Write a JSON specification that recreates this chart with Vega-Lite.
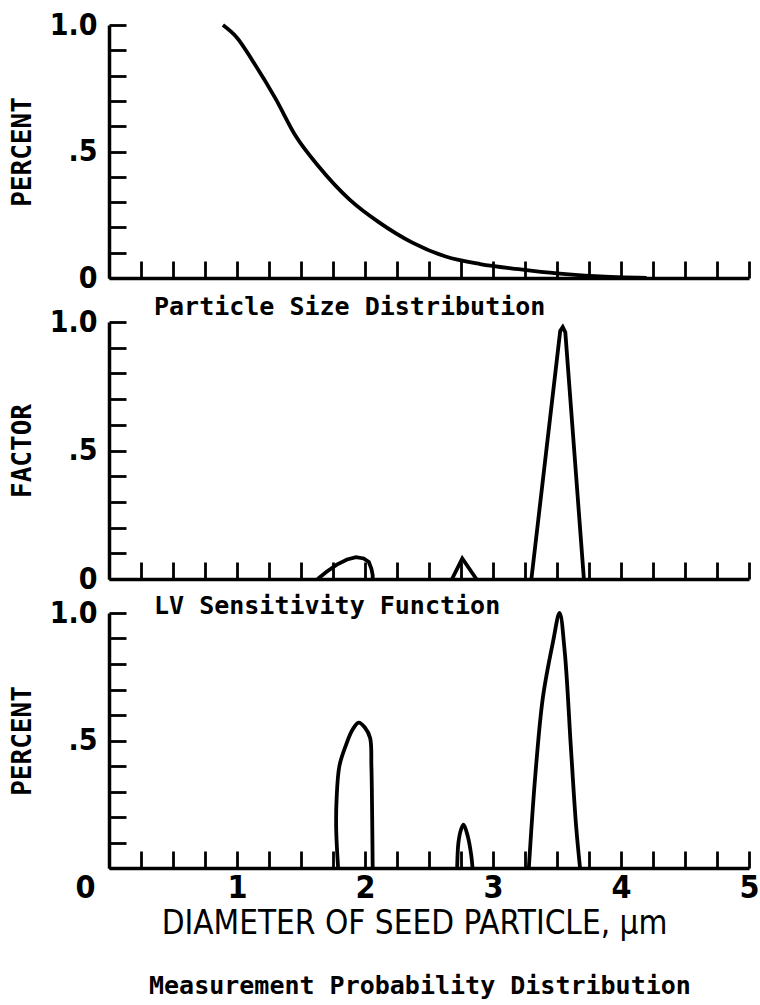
{
  "$schema": "https://vega.github.io/schema/vega-lite/v6.json",
  "background": "white",
  "padding": {"top": 10, "left": 9, "right": 4, "bottom": 4},
  "config": {
    "view": {"stroke": null},
    "axis": {
      "grid": false,
      "domainColor": "black",
      "domainWidth": 3.5,
      "tickColor": "black",
      "tickWidth": 2.8,
      "tickSize": -17,
      "labelColor": "black",
      "titleColor": "black",
      "labelFont": "DejaVu Sans Condensed",
      "labelFontWeight": "bold",
      "titleFont": "DejaVu Sans Mono",
      "titleFontWeight": "bold",
      "labelFlush": false,
      "labelOverlap": false
    },
    "title": {"color": "black", "font": "DejaVu Sans Mono", "fontWeight": "bold", "fontSize": 25}
  },
  "datasets": {
    "curves": [
      {"panel": "A", "seg": "a", "i": 1, "x": 0.89, "y": 1.0},
      {"panel": "A", "seg": "a", "i": 2, "x": 1.0, "y": 0.95},
      {"panel": "A", "seg": "a", "i": 3, "x": 1.12, "y": 0.86},
      {"panel": "A", "seg": "a", "i": 4, "x": 1.3, "y": 0.71},
      {"panel": "A", "seg": "a", "i": 5, "x": 1.46, "y": 0.56},
      {"panel": "A", "seg": "a", "i": 6, "x": 1.64, "y": 0.44},
      {"panel": "A", "seg": "a", "i": 7, "x": 1.88, "y": 0.31},
      {"panel": "A", "seg": "a", "i": 8, "x": 2.11, "y": 0.22},
      {"panel": "A", "seg": "a", "i": 9, "x": 2.37, "y": 0.14},
      {"panel": "A", "seg": "a", "i": 10, "x": 2.63, "y": 0.085},
      {"panel": "A", "seg": "a", "i": 11, "x": 2.9, "y": 0.055},
      {"panel": "A", "seg": "a", "i": 12, "x": 3.2, "y": 0.035},
      {"panel": "A", "seg": "a", "i": 13, "x": 3.5, "y": 0.018},
      {"panel": "A", "seg": "a", "i": 14, "x": 3.8, "y": 0.007},
      {"panel": "A", "seg": "a", "i": 15, "x": 4.2, "y": 0.0},

      {"panel": "B", "seg": "b1", "i": 1, "x": 1.63, "y": 0.0},
      {"panel": "B", "seg": "b1", "i": 2, "x": 1.7, "y": 0.028},
      {"panel": "B", "seg": "b1", "i": 3, "x": 1.78, "y": 0.056},
      {"panel": "B", "seg": "b1", "i": 4, "x": 1.86, "y": 0.076},
      {"panel": "B", "seg": "b1", "i": 5, "x": 1.93, "y": 0.085},
      {"panel": "B", "seg": "b1", "i": 6, "x": 1.99, "y": 0.08},
      {"panel": "B", "seg": "b1", "i": 7, "x": 2.03, "y": 0.066},
      {"panel": "B", "seg": "b1", "i": 8, "x": 2.05, "y": 0.04},
      {"panel": "B", "seg": "b1", "i": 9, "x": 2.06, "y": 0.015},
      {"panel": "B", "seg": "b1", "i": 10, "x": 2.06, "y": 0.0},
      {"panel": "B", "seg": "b2", "i": 1, "x": 2.68, "y": 0.0},
      {"panel": "B", "seg": "b2", "i": 2, "x": 2.76, "y": 0.08},
      {"panel": "B", "seg": "b2", "i": 3, "x": 2.87, "y": 0.0},
      {"panel": "B", "seg": "b3", "i": 1, "x": 3.3, "y": 0.0},
      {"panel": "B", "seg": "b3", "i": 2, "x": 3.525, "y": 0.965},
      {"panel": "B", "seg": "b3", "i": 3, "x": 3.545, "y": 0.98},
      {"panel": "B", "seg": "b3", "i": 4, "x": 3.565, "y": 0.96},
      {"panel": "B", "seg": "b3", "i": 5, "x": 3.71, "y": 0.0},

      {"panel": "C", "seg": "c1", "i": 1, "x": 1.79, "y": 0.0},
      {"panel": "C", "seg": "c1", "i": 2, "x": 1.775, "y": 0.15},
      {"panel": "C", "seg": "c1", "i": 3, "x": 1.778, "y": 0.27},
      {"panel": "C", "seg": "c1", "i": 4, "x": 1.8, "y": 0.4},
      {"panel": "C", "seg": "c1", "i": 5, "x": 1.85, "y": 0.48},
      {"panel": "C", "seg": "c1", "i": 6, "x": 1.9, "y": 0.54},
      {"panel": "C", "seg": "c1", "i": 7, "x": 1.95, "y": 0.57},
      {"panel": "C", "seg": "c1", "i": 8, "x": 2.0, "y": 0.55},
      {"panel": "C", "seg": "c1", "i": 9, "x": 2.04, "y": 0.51},
      {"panel": "C", "seg": "c1", "i": 10, "x": 2.05, "y": 0.4},
      {"panel": "C", "seg": "c1", "i": 11, "x": 2.056, "y": 0.2},
      {"panel": "C", "seg": "c1", "i": 12, "x": 2.06, "y": 0.0},
      {"panel": "C", "seg": "c2", "i": 1, "x": 2.72, "y": 0.0},
      {"panel": "C", "seg": "c2", "i": 2, "x": 2.73, "y": 0.1},
      {"panel": "C", "seg": "c2", "i": 3, "x": 2.75, "y": 0.15},
      {"panel": "C", "seg": "c2", "i": 4, "x": 2.77, "y": 0.17},
      {"panel": "C", "seg": "c2", "i": 5, "x": 2.8, "y": 0.13},
      {"panel": "C", "seg": "c2", "i": 6, "x": 2.83, "y": 0.05},
      {"panel": "C", "seg": "c2", "i": 7, "x": 2.84, "y": 0.0},
      {"panel": "C", "seg": "c3", "i": 1, "x": 3.28, "y": 0.0},
      {"panel": "C", "seg": "c3", "i": 2, "x": 3.33, "y": 0.36},
      {"panel": "C", "seg": "c3", "i": 3, "x": 3.39, "y": 0.67},
      {"panel": "C", "seg": "c3", "i": 4, "x": 3.47, "y": 0.89},
      {"panel": "C", "seg": "c3", "i": 5, "x": 3.52, "y": 1.0},
      {"panel": "C", "seg": "c3", "i": 6, "x": 3.56, "y": 0.85},
      {"panel": "C", "seg": "c3", "i": 7, "x": 3.61, "y": 0.46},
      {"panel": "C", "seg": "c3", "i": 8, "x": 3.65, "y": 0.16},
      {"panel": "C", "seg": "c3", "i": 9, "x": 3.68, "y": 0.0}
    ]
  },
  "bounds": "flush",
  "spacing": 44,
  "vconcat": [
    {
      "width": 640,
      "height": 253,
      "title": {"text": "Particle Size Distribution", "orient": "bottom", "anchor": "start", "frame": "group", "offset": 2, "dx": 45},
      "data": {"name": "curves"},
      "transform": [{"filter": "datum.panel === 'A'"}],
      "mark": {"type": "line", "color": "black", "strokeWidth": 3.8, "interpolate": "monotone"},
      "encoding": {
        "x": {"field": "x", "type": "quantitative", "scale": {"domain": [0, 5], "nice": false},
          "axis": {"values": [0, 0.25, 0.5, 0.75, 1, 1.25, 1.5, 1.75, 2, 2.25, 2.5, 2.75, 3, 3.25, 3.5, 3.75, 4, 4.25, 4.5, 4.75, 5], "labels": false, "title": null}},
        "y": {"field": "y", "type": "quantitative", "scale": {"domain": [0, 1], "nice": false},
          "axis": {"values": [0, 0.1, 0.2, 0.3, 0.4, 0.5, 0.6, 0.7, 0.8, 0.9, 1], "labelExpr": "datum.value == 1 ? '1.0' : datum.value == 0.5 ? '.5' : datum.value == 0 ? '0' : ''", "labelFontSize": 30, "labelPadding": 29, "title": "PERCENT", "titleFontSize": 26, "titlePadding": 14}},
        "detail": {"field": "seg"},
        "order": {"field": "i", "type": "quantitative"}
      }
    },
    {
      "bounds": "flush",
      "spacing": 34,
      "vconcat": [
        {
          "width": 640,
          "height": 257,
          "title": {"text": "LV Sensitivity Function", "orient": "bottom", "anchor": "start", "frame": "group", "offset": 0, "dx": 45},
          "data": {"name": "curves"},
          "transform": [{"filter": "datum.panel === 'B'"}],
          "mark": {"type": "line", "color": "black", "strokeWidth": 3.8, "interpolate": "linear"},
          "encoding": {
            "x": {"field": "x", "type": "quantitative", "scale": {"domain": [0, 5], "nice": false},
              "axis": {"values": [0, 0.25, 0.5, 0.75, 1, 1.25, 1.5, 1.75, 2, 2.25, 2.5, 2.75, 3, 3.25, 3.5, 3.75, 4, 4.25, 4.5, 4.75, 5], "labels": false, "title": null}},
            "y": {"field": "y", "type": "quantitative", "scale": {"domain": [0, 1], "nice": false},
              "axis": {"values": [0, 0.1, 0.2, 0.3, 0.4, 0.5, 0.6, 0.7, 0.8, 0.9, 1], "labelExpr": "datum.value == 1 ? '1.0' : datum.value == 0.5 ? '.5' : datum.value == 0 ? '0' : ''", "labelFontSize": 30, "labelPadding": 29, "title": "FACTOR", "titleFontSize": 26, "titlePadding": 14}},
            "detail": {"field": "seg"},
            "order": {"field": "i", "type": "quantitative"}
          }
        },
        {
          "width": 640,
          "height": 255,
          "title": {"text": "Measurement Probability Distribution", "orient": "bottom", "anchor": "start", "frame": "group", "offset": 34, "dx": 40},
          "data": {"name": "curves"},
          "transform": [{"filter": "datum.panel === 'C'"}],
          "mark": {"type": "line", "color": "black", "strokeWidth": 3.8, "interpolate": "catmull-rom"},
          "encoding": {
            "x": {"field": "x", "type": "quantitative", "scale": {"domain": [0, 5], "nice": false},
              "axis": {"values": [0, 0.25, 0.5, 0.75, 1, 1.25, 1.5, 1.75, 2, 2.25, 2.5, 2.75, 3, 3.25, 3.5, 3.75, 4, 4.25, 4.5, 4.75, 5],
                "labelExpr": "datum.value % 1 === 0 ? format(datum.value, 'd') : ''",
                "labelFontSize": 32, "labelPadding": 21,
                "labelAlign": {"condition": {"test": "datum.value == 0", "value": "right"}, "value": "center"},
                "labelOffset": {"condition": {"test": "datum.value == 0", "value": -14}, "value": 0},
                "title": "DIAMETER OF SEED PARTICLE, µm", "titleFont": "DejaVu Sans Condensed", "titleFontWeight": "normal", "titleFontSize": 33, "titlePadding": 4, "titleX": 305}},
            "y": {"field": "y", "type": "quantitative", "scale": {"domain": [0, 1], "nice": false},
              "axis": {"values": [0, 0.1, 0.2, 0.3, 0.4, 0.5, 0.6, 0.7, 0.8, 0.9, 1], "labelExpr": "datum.value == 1 ? '1.0' : datum.value == 0.5 ? '.5' : ''", "labelFontSize": 30, "labelPadding": 29, "title": "PERCENT", "titleFontSize": 26, "titlePadding": 14}},
            "detail": {"field": "seg"},
            "order": {"field": "i", "type": "quantitative"}
          }
        }
      ]
    }
  ]
}
